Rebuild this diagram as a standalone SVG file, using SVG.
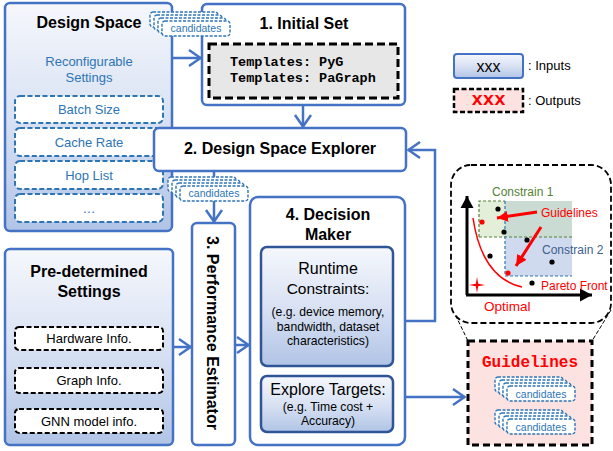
<svg xmlns="http://www.w3.org/2000/svg" width="613" height="451" viewBox="0 0 613 451">
<style>
text{font-family:"Liberation Sans",Arial,sans-serif;}
.title{font-weight:bold;font-size:16px;fill:#000;text-anchor:middle;}
.box{fill:#fff;stroke:#4472c4;stroke-width:2.5;}
.grad{fill:url(#bg);stroke:#4472c4;stroke-width:2.5;}
.grad2{fill:url(#bg);stroke:#2f5597;stroke-width:2.5;}
.bdash{fill:#fff;stroke:#2e75b6;stroke-width:2;stroke-dasharray:5 2.5;}
.kdash{fill:#fff;stroke:#000;stroke-width:2;stroke-dasharray:5 2.5;}
.btxt{font-size:13px;fill:#2e75b6;text-anchor:middle;}
.ktxt{font-size:13px;fill:#000;text-anchor:middle;}
.mid{text-anchor:middle;fill:#000;}
.conn{fill:none;stroke:#4472c4;stroke-width:2.5;marker-end:url(#ab);}
.cand{font-size:10.5px;fill:#2e75b6;text-anchor:middle;}
.mono{font-family:"Liberation Mono","Courier New",monospace;font-weight:bold;}
.cr{fill:#fff;stroke:#2e75b6;stroke-width:1.4;stroke-dasharray:3 1.5;}
.dot{fill:#000;}
.rdot{fill:#f00;}
.red{fill:#f00;font-size:12px;}
</style>
<defs>
<linearGradient id="bg" x1="0" y1="0" x2="0" y2="1">
<stop offset="0" stop-color="#f5f7fc"/>
<stop offset="0.5" stop-color="#d9e2f3"/>
<stop offset="1" stop-color="#b1c4e6"/>
</linearGradient>
<marker id="ab" viewBox="-14 -10 16 20" refX="0" refY="0" markerWidth="16" markerHeight="20" markerUnits="userSpaceOnUse" orient="auto">
<path d="M-12,-8 L-0.5,0 L-12,8" fill="none" stroke="#4472c4" stroke-width="2.5"/>
</marker>
<marker id="ak" viewBox="-12 -7 13 14" refX="0" refY="0" markerWidth="13" markerHeight="14" markerUnits="userSpaceOnUse" orient="auto">
<path d="M-12,-6.5 L0,0 L-12,6.5 Z" fill="#000"/>
</marker>
<marker id="ar" viewBox="-11 -6 12 12" refX="0" refY="0" markerWidth="12" markerHeight="12" markerUnits="userSpaceOnUse" orient="auto">
<path d="M-11,-5.5 L0,0 L-11,5.5 Z" fill="#f00"/>
</marker>
<g id="stack">
<rect class="cr" x="-12" y="-9" width="68" height="15" rx="3"/>
<rect class="cr" x="-8" y="-6" width="68" height="15" rx="3"/>
<rect class="cr" x="-4" y="-3" width="68" height="15" rx="3"/>
<rect class="cr" x="0" y="0" width="68" height="15" rx="3"/>
</g>
</defs>

<!-- connectors -->
<g id="connectors">
<path class="conn" d="M172,58 H201"/>
<path class="conn" d="M303,105 V127"/>
<path class="conn" d="M214,171 V222"/>
<path class="conn" d="M173,347 H191"/>
<path class="conn" d="M235,345 H249"/>
<path class="conn" d="M405,321 H435 V150 H408"/>
<path class="conn" d="M405,397 H465"/>
<path d="M453,310 L468,341 M611,310 L592,341" fill="none" stroke="#000" stroke-width="1" stroke-dasharray="4 2"/>
</g>

<g id="design-space">
<rect class="grad" x="5" y="3" width="167" height="228" rx="5"/>
<text class="title" x="89" y="28">Design Space</text>
<text class="btxt" x="89" y="66">Reconfigurable</text>
<text class="btxt" x="89" y="82">Settings</text>
<rect class="bdash" x="15" y="96" width="148" height="27" rx="5"/>
<text class="btxt" x="89" y="114">Batch Size</text>
<rect class="bdash" x="15" y="128" width="148" height="28" rx="5"/>
<text class="btxt" x="89" y="146.5">Cache Rate</text>
<rect class="bdash" x="15" y="161" width="148" height="28" rx="5"/>
<text class="btxt" x="89" y="179.5">Hop List</text>
<rect class="bdash" x="15" y="194" width="148" height="28" rx="5"/>
<text class="btxt" x="89" y="213">…</text>
</g>

<g id="initial-set">
<rect class="box" x="202" y="4" width="203" height="101" rx="5"/>
<text class="title" x="304" y="29">1. Initial Set</text>
<rect x="209" y="44" width="189" height="54" fill="#e7e7e7" stroke="#000" stroke-width="3" stroke-dasharray="8 4"/>
<text class="mono" x="230" y="66" font-size="13.5">Templates: PyG</text>
<text class="mono" x="230" y="82" font-size="13.5">Templates: PaGraph</text>
</g>

<g id="candidates-1">
<use href="#stack" x="162" y="21"/>
<text class="cand" x="196" y="32">candidates</text>
</g>

<g id="explorer">
<rect class="box" x="154" y="128" width="252" height="43" rx="5"/>
<text class="title" x="280" y="154">2. Design Space Explorer</text>
</g>

<g id="candidates-2">
<use href="#stack" x="180" y="186"/>
<text class="cand" x="214" y="197">candidates</text>
</g>

<g id="predetermined">
<rect class="grad" x="5" y="249" width="168" height="196" rx="5"/>
<text class="title" x="89" y="276.5">Pre-determined</text>
<text class="title" x="89" y="296.5">Settings</text>
<rect class="kdash" x="15" y="327" width="148" height="23" rx="4"/>
<text class="ktxt" x="89" y="343">Hardware Info.</text>
<rect class="kdash" x="15" y="368" width="148" height="25" rx="4"/>
<text class="ktxt" x="89" y="385">Graph Info.</text>
<rect class="kdash" x="15" y="409" width="148" height="24" rx="4"/>
<text class="ktxt" x="89" y="425.5">GNN model info.</text>
</g>

<g id="estimator">
<rect class="box" x="192" y="223" width="43" height="222" rx="5"/>
<text class="title" font-size="16.5" transform="translate(207,333) rotate(90)">3. Performance Estimator</text>
</g>

<g id="decision-maker">
<rect class="box" x="250" y="197" width="155" height="248" rx="8"/>
<text class="title" x="328" y="219.5">4. Decision</text>
<text class="title" x="328" y="239.5">Maker</text>
<rect class="grad2" x="261" y="247" width="132" height="119" rx="6"/>
<text class="mid" x="328" y="273.5" font-size="16">Runtime</text>
<text class="mid" x="328" y="293.5" font-size="15.5">Constraints:</text>
<text class="mid" x="328" y="315.5" font-size="12.2">(e.g. device memory,</text>
<text class="mid" x="328" y="330.5" font-size="12.2">bandwidth, dataset</text>
<text class="mid" x="328" y="344.5" font-size="12.2">characteristics)</text>
<rect class="grad2" x="261" y="376" width="132" height="56" rx="6"/>
<text class="mid" x="328" y="394.5" font-size="16">Explore Targets:</text>
<text class="mid" x="328" y="410.5" font-size="12.2">(e.g. Time cost +</text>
<text class="mid" x="328" y="424.5" font-size="12.2">Accuracy)</text>
</g>

<g id="legend">
<rect x="454" y="54" width="69" height="24" rx="3" fill="url(#bg)" stroke="#4472c4" stroke-width="2"/>
<text class="mid" x="488.5" y="72" font-size="16">xxx</text>
<text x="528" y="69.5" font-size="13">: Inputs</text>
<rect x="454" y="89" width="69" height="23" fill="#fde2e2" stroke="#000" stroke-width="2.5" stroke-dasharray="5 2.5"/>
<text class="mono" x="488.5" y="105" font-size="19" fill="#f00" text-anchor="middle">xxx</text>
<text x="528" y="105" font-size="13">: Outputs</text>
</g>

<g id="chart">
<rect x="451" y="165" width="160" height="158" rx="20" fill="#fff" stroke="#000" stroke-width="1.8" stroke-dasharray="6 3"/>
<rect x="479" y="201" width="26" height="36" fill="#e3efd9"/>
<rect x="505" y="201" width="67" height="36" fill="#c9dbd2"/>
<rect x="505" y="237" width="67" height="39" fill="#cfdaef"/>
<path d="M479,237 V201 H505 M479,237 H572" fill="none" stroke="#548235" stroke-width="1.2" stroke-dasharray="3 2"/>
<path d="M505,201 V276 H572" fill="none" stroke="#2e75b6" stroke-width="1.2" stroke-dasharray="3 2"/>
<text x="492" y="196" font-size="12" fill="#548235">Constrain 1</text>
<text x="542" y="254" font-size="12" fill="#3f5f8f">Constrain 2</text>
<path d="M467,295 V196" stroke="#000" stroke-width="3" marker-end="url(#ak)"/>
<path d="M466,295 H592" stroke="#000" stroke-width="3" marker-end="url(#ak)"/>
<path d="M473,218 Q482,278 522,287" fill="none" stroke="#f00" stroke-width="1.5"/>
<circle class="dot" cx="498" cy="209" r="2.6"/>
<circle class="dot" cx="504" cy="232" r="2.6"/>
<circle class="dot" cx="527" cy="240" r="2.6"/>
<circle class="dot" cx="490" cy="256" r="2.6"/>
<circle class="dot" cx="552" cy="262" r="2.6"/>
<circle class="dot" cx="532" cy="283" r="2.6"/>
<circle class="rdot" cx="482" cy="222" r="2.6"/>
<circle class="rdot" cx="508" cy="273" r="2.6"/>
<path d="M537,212 L497,218" stroke="#f00" stroke-width="3" marker-end="url(#ar)"/>
<path d="M541,227 L516,266" stroke="#f00" stroke-width="3" marker-end="url(#ar)"/>
<text class="red" x="541" y="217">Guidelines</text>
<text class="red" x="541" y="289.5">Pareto Front</text>
<path d="M477,277 L478.2,283.8 L485,285 L478.2,286.2 L477,293 L475.8,286.2 L469,285 L475.8,283.8 Z" fill="#f00"/>
<text x="484" y="310.5" font-size="13.5" fill="#f00">Optimal</text>
</g>

<g id="guidelines">
<rect x="468" y="341" width="124" height="104" fill="#fde2e2" stroke="#000" stroke-width="3" stroke-dasharray="7 4"/>
<text class="mono" x="530" y="367" font-size="16" fill="#f00" text-anchor="middle">Guidelines</text>
<use href="#stack" x="507" y="386"/>
<text class="cand" x="541" y="397.5">candidates</text>
<use href="#stack" x="507" y="419"/>
<text class="cand" x="541" y="430.5">candidates</text>
</g>
</svg>
